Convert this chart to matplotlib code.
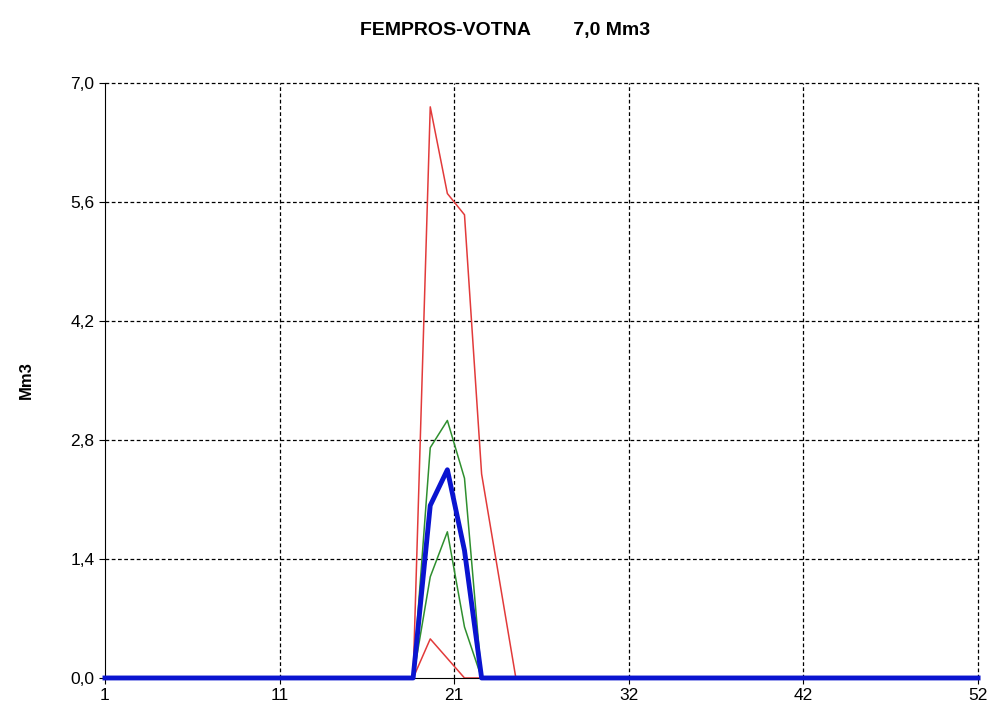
import numpy as np
import matplotlib
matplotlib.use("Agg")
import matplotlib.pyplot as plt

weeks = np.arange(1, 53)

# weekly values (Mm3) for the non-zero weeks; everything else is 0
red_high = {20: 6.72, 21: 5.70, 22: 5.45, 23: 2.40, 24: 1.20}
red_low = {20: 0.46, 21: 0.23}
green_high = {20: 2.71, 21: 3.03, 22: 2.35}
green_low = {20: 1.19, 21: 1.72, 22: 0.60}
blue_mid = {20: 2.03, 21: 2.45, 22: 1.50}

xtick_pos = [1, 11.2, 21.4, 31.6, 41.8, 52]
xtick_labels = ["1", "11", "21", "32", "42", "52"]
ytick_pos = [0.0, 1.4, 2.8, 4.2, 5.6, 7.0]
ytick_labels = ["0,0", "1,4", "2,8", "4,2", "5,6", "7,0"]


def series(d):
    return np.array([d.get(w, 0.0) for w in weeks])


plt.rcParams['font.family'] = ['Liberation Sans', 'DejaVu Sans']

fig = plt.figure(figsize=(9.94, 7.16), dpi=100)
ax = fig.add_axes([0.1056, 0.0531, 0.984 - 0.1056, 0.884 - 0.0531])

# dashed grid drawn by hand so the lines on the frame edge are not clipped
for x in xtick_pos[1:]:
    ax.axvline(x, color='black', linestyle=(0, (3, 2)), lw=0.9, clip_on=False, zorder=1)
for y in ytick_pos[1:]:
    ax.axhline(y, color='black', linestyle=(0, (3, 2)), lw=0.9, clip_on=False, zorder=1)

ax.plot(weeks, series(red_high), color='#e23a3a', lw=1.1, clip_on=False)
ax.plot(weeks, series(red_low), color='#e23a3a', lw=1.1, clip_on=False)
ax.plot(weeks, series(green_high), color='#2f8f2f', lw=1.1, clip_on=False)
ax.plot(weeks, series(green_low), color='#2f8f2f', lw=1.1, clip_on=False)
ax.plot(weeks, series(blue_mid), color='#0a14d0', lw=3.5, zorder=5, clip_on=False)

ax.set_xlim(1, 52)
ax.set_ylim(0, 7.0)
ax.set_xticks(xtick_pos)
ax.set_xticklabels(xtick_labels, fontsize=12.5)
ax.set_yticks(ytick_pos)
ax.set_yticklabels(ytick_labels, fontsize=12.5)
ax.tick_params(direction='out', length=4, color='black')

ax.spines['top'].set_visible(False)
ax.spines['right'].set_visible(False)

ax.set_ylabel("Mm3", fontsize=12, fontweight='bold', labelpad=26)
fig.text(0.508, 0.957, "FEMPROS-VOTNA        7,0 Mm3", ha='center', va='center',
         fontsize=14, fontweight='bold')

fig.savefig("out.png", dpi=100)
